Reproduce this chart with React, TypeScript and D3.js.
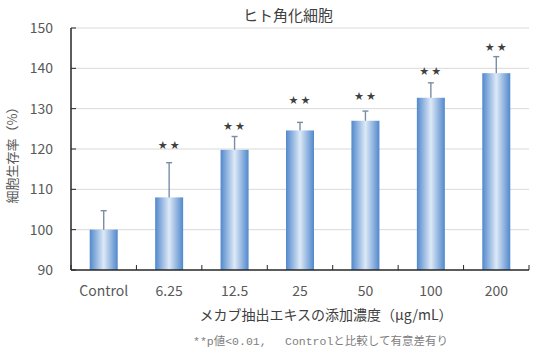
import React from "react";
import * as d3 from "d3";

const categories = ["Control", "6.25", "12.5", "25", "50", "100", "200"];
const means = [100, 108.0, 119.8, 124.6, 127.0, 132.7, 138.8];
const errUpper = [104.7, 116.6, 123.1, 126.6, 129.4, 136.4, 142.9];
const sigLabels = ["", "★★", "★★", "★★", "★★", "★★", "★★"];
const sigLabelPos = [0, 121.2, 125.9, 132.3, 133.5, 139.7, 145.6];
const yTicks = [90, 100, 110, 120, 130, 140, 150];

const W = 536;
const H = 359;
const M = { left: 71, right: 529, top: 28, bottom: 270 };
const FONT = "'Noto Sans CJK JP', 'Noto Sans', sans-serif";

export default function App() {
  const x = d3.scaleBand<string>().domain(categories).range([M.left, M.right]).paddingInner(0).paddingOuter(0);
  const y = d3.scaleLinear().domain([90, 150]).range([M.bottom, M.top]);
  const bw = 28;
  const boundaries = categories.map((c) => x(c) as number).concat([M.right]);

  return (
    <svg width={W} height={H} style={{ position: "absolute", left: 0, top: 0, background: "#fff" }}>
      <defs>
        <linearGradient id="barGrad" x1="0" x2="1" y1="0" y2="0">
          <stop offset="0%" stopColor="#5188cc" />
          <stop offset="50%" stopColor="#dde9f7" />
          <stop offset="100%" stopColor="#5188cc" />
        </linearGradient>
      </defs>
      <rect x={0} y={0} width={W} height={H} fill="#fff" />
      <text x={288} y={21} textAnchor="middle" fontFamily={FONT} fontSize={15} fill="#404040">
        ヒト角化細胞
      </text>
      {yTicks.map((t) => (
        <g key={t}>
          {t > 90 && (
            <line x1={M.left} x2={M.right} y1={y(t)} y2={y(t)} stroke="#d9d9d9" strokeWidth={1} />
          )}
          <text x={53} y={y(t) + 5} textAnchor="end" fontFamily={FONT} fontSize={14} fill="#595959">
            {t}
          </text>
          <line x1={M.left} x2={M.left + 5} y1={y(t)} y2={y(t)} stroke="#262626" strokeWidth={1} />
        </g>
      ))}
      {categories.map((c, i) => {
        const cx = (x(c) as number) + x.bandwidth() / 2;
        return (
          <g key={c}>
            <rect x={cx - bw / 2} y={y(means[i])} width={bw} height={y(90) - y(means[i])} fill="url(#barGrad)" />
            <line x1={cx} x2={cx} y1={y(means[i])} y2={y(errUpper[i])} stroke="#7a8ca6" strokeWidth={1.4} />
            <line x1={cx - 3} x2={cx + 3} y1={y(errUpper[i])} y2={y(errUpper[i])} stroke="#7a8ca6" strokeWidth={1.4} />
            {sigLabels[i] && (
              <text x={cx + 1} y={y(sigLabelPos[i]) + 4} textAnchor="middle" fontFamily={FONT} fontSize={9} fill="#404040" letterSpacing={3}>
                {sigLabels[i]}
              </text>
            )}
            <text x={cx} y={296} textAnchor="middle" fontFamily={FONT} fontSize={14} fill="#595959">
              {c}
            </text>
          </g>
        );
      })}
      <line x1={M.left} x2={M.left} y1={M.top} y2={M.bottom} stroke="#262626" strokeWidth={1.5} />
      <line x1={M.left} x2={M.right} y1={M.bottom} y2={M.bottom} stroke="#262626" strokeWidth={1.5} />
      {boundaries.map((b, i) => (
        <line key={i} x1={b} x2={b} y1={M.bottom} y2={M.bottom - 5} stroke="#262626" strokeWidth={1} />
      ))}
      <text
        transform={`translate(17,152) rotate(-90)`}
        textAnchor="middle"
        fontFamily={FONT}
        fontSize={13}
        fill="#595959"
      >
        細胞生存率（%）
      </text>
      <text x={326} y={320} textAnchor="middle" fontFamily={FONT} fontSize={14} fill="#404040">
        メカブ抽出エキスの添加濃度（μg/mL）
      </text>
      <text x={193} y={345} fontFamily="'Liberation Mono', 'Noto Sans CJK JP', monospace" fontSize={11.5} fill="#808080" xmlSpace="preserve">
        {"**p値<0.01,　 Controlと比較して有意差有り"}
      </text>
    </svg>
  );
}
